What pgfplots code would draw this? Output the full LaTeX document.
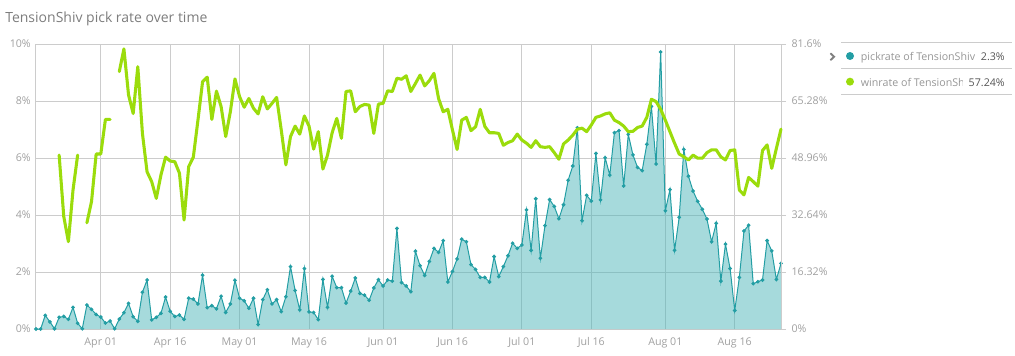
\documentclass[border=0pt]{standalone}
\usepackage{fontspec}
\setmainfont{Open Sans}
\usepackage{pgfplots}
\usepackage{pgfplotstable}
\pgfplotsset{compat=1.18}
\definecolor{pickline}{RGB}{35,158,164}
\definecolor{pickfill}{RGB}{77,181,185}
\definecolor{winline}{RGB}{155,220,12}
\definecolor{gridc}{RGB}{204,204,204}
\definecolor{ticktext}{RGB}{160,160,160}
\definecolor{titletext}{RGB}{125,125,125}
\definecolor{legtext}{RGB}{150,150,150}
\definecolor{legval}{RGB}{85,85,85}

\pgfplotstableread{
d p
-14 0.0
-13 0.0
-12 0.48
-11 0.25
-10 0.01
-9 0.41
-8 0.44
-7 0.34
-6 0.76
-5 0.2
-4 0.01
-3 0.84
-2 0.69
-1 0.51
0 0.42
1 0.21
2 0.28
3 0.01
4 0.35
5 0.57
6 0.9
7 0.43
8 0.27
9 1.29
10 1.72
11 0.32
12 0.41
13 0.55
14 1.12
15 0.62
16 0.44
17 0.49
18 0.34
19 1.08
20 1.05
21 0.88
22 1.89
23 0.75
24 0.82
25 0.71
26 1.15
27 0.58
28 0.88
29 1.71
30 1.08
31 0.99
32 0.73
33 1.08
34 0.16
35 1.03
36 1.38
37 0.88
38 1.03
39 0.61
40 1.13
41 2.19
42 1.35
43 0.67
44 2.12
45 0.60
46 0.58
47 0.33
48 1.74
49 0.76
50 1.85
51 1.45
52 1.45
53 0.91
54 1.33
55 1.79
56 1.25
57 1.19
58 1.01
59 1.44
60 1.73
61 1.51
62 1.72
63 1.68
64 3.53
65 1.63
66 1.51
67 1.31
68 2.73
69 2.22
70 1.88
71 2.37
72 2.83
73 2.69
74 3.10
75 1.65
76 2.02
77 2.46
78 3.15
79 3.06
80 2.26
81 2.09
82 1.81
83 1.81
84 1.65
85 2.54
86 1.84
87 2.19
88 2.57
89 3.01
90 2.83
91 2.95
92 4.18
93 2.76
94 4.57
95 2.48
96 3.63
97 4.54
98 4.30
99 3.87
100 4.36
101 5.22
102 5.72
103 7.06
104 3.80
105 4.69
106 4.49
107 6.16
108 4.53
109 6.01
110 5.40
111 6.89
112 6.96
113 5.02
114 6.83
115 6.11
116 5.67
117 5.56
118 6.48
119 7.81
120 5.79
121 9.72
122 4.15
123 4.89
124 2.76
125 3.92
126 6.30
127 5.36
128 4.84
129 4.48
130 4.20
131 3.86
132 3.06
133 3.71
134 1.68
135 2.98
136 2.12
137 0.65
138 1.81
139 3.44
140 3.64
141 1.59
142 1.66
143 1.72
144 3.10
145 2.74
146 1.74
147 2.30
}\pick

\pgfplotstableread{
d w
-14 nan
-13 nan
-12 nan
-11 nan
-10 nan
-9 49.8
-8 32.2
-7 25.0
-6 39.8
-5 49.8
-4 nan
-3 30.4
-2 36.5
-1 50.1
0 50.1
1 60.0
2 60.0
3 nan
4 73.7
5 80.2
6 67.0
7 61.7
8 75.1
9 56.0
10 45.0
11 42.2
12 37.4
13 44.1
14 49.2
15 48.1
16 47.9
17 44.6
18 31.2
19 46.5
20 49.2
21 59.8
22 70.8
23 72.1
24 60.0
25 68.1
26 63.7
27 55.1
28 62.2
29 71.6
30 66.5
31 63.5
32 66.0
33 63.2
34 61.6
35 66.5
36 63.0
37 64.6
38 66.3
39 57.0
40 47.0
41 55.1
42 58.1
43 55.8
44 61.0
45 58.1
46 51.5
47 56.5
48 45.8
49 49.8
50 56.2
51 60.3
52 54.6
53 68.0
54 68.2
55 62.2
56 63.7
57 64.3
58 64.1
59 56.0
60 64.4
61 64.6
62 68.2
63 68.0
64 71.8
65 71.5
66 72.5
67 68.0
68 70.3
69 72.7
70 69.6
71 71.1
72 73.2
73 66.0
74 62.2
75 62.9
76 57.0
77 51.4
78 59.8
79 60.6
80 56.8
81 57.9
82 62.9
83 58.0
84 56.2
85 56.2
86 56.0
87 52.6
88 53.4
89 53.9
90 55.8
91 54.1
92 53.2
93 52.0
94 53.9
95 52.2
96 52.0
97 52.2
98 50.5
99 48.6
100 53.0
101 54.1
102 55.5
103 57.2
104 57.5
105 56.5
106 58.4
107 60.6
108 61.0
109 61.6
110 61.9
111 59.8
112 59.1
113 58.1
114 56.5
115 56.6
116 57.7
117 58.1
118 60.6
119 65.8
120 65.1
121 62.9
122 59.8
123 56.5
124 53.2
125 50.1
126 49.3
127 48.4
128 49.8
129 48.9
130 48.9
131 50.5
132 51.3
133 51.3
134 49.3
135 48.4
136 51.1
137 51.3
138 39.8
139 38.4
140 43.4
141 42.2
142 40.9
143 51.1
144 52.7
145 46.0
146 51.7
147 57.24
}\win

\begin{document}
\begin{tikzpicture}
\path[use as bounding box] (0,0) rectangle (761.25pt,266.25pt);

\node[anchor=base west, inner sep=0pt, font=\fontsize{10.5}{12}\selectfont, text=titletext] at (3.75pt,249.4pt) {TensionShiv pick rate over time};

\begin{axis}[
  at={(27pt,19.5pt)}, anchor=south west, scale only axis,
  width=558.75pt, height=213.75pt,
  xmin=-14, xmax=147, ymin=0, ymax=10,
  xtick={0,15,30,45,61,76,91,106,122,137},
  xticklabels={Apr 01,Apr 16,May 01,May 16,Jun 01,Jun 16,Jul 01,Jul 16,Aug 01,Aug 16},
  ytick={0,2,4,6,8,10},
  yticklabels={0\%,2\%,4\%,6\%,8\%,10\%},
  grid=major, grid style={gridc, line width=0.75pt},
  axis line style={gridc, line width=0.75pt},
  major tick length=0pt,
  tick label style={font=\fontsize{8}{9}\selectfont, text=ticktext},
  /pgf/number format/assume math mode=true,
  yticklabel style={anchor=east, inner sep=0pt, xshift=-3.75pt},
  xticklabel style={anchor=base, inner sep=0pt, yshift=-12.4pt},
  clip=false,
]
\addplot[draw=none, fill=pickfill, fill opacity=0.5] table[x=d,y=p]{\pick} \closedcycle;
\addplot[pickline, line width=0.75pt, mark=*, mark size=1pt, mark options={solid, fill=pickline, draw=pickline}] table[x=d,y=p]{\pick};
\end{axis}

\begin{axis}[
  at={(27pt,19.5pt)}, anchor=south west, scale only axis,
  width=558.75pt, height=213.75pt,
  xmin=-14, xmax=147, ymin=0, ymax=81.6,
  axis x line=none, axis y line*=right,
  ytick={0,16.32,32.64,48.96,65.28,81.6},
  yticklabels={0\%,16.32\%,32.64\%,48.96\%,65.28\%,81.6\%},
  axis line style={gridc, line width=0.75pt},
  tick style={gridc, line width=0.75pt},
  major tick length=3.75pt, tick align=outside,
  tick label style={font=\fontsize{8}{9}\selectfont, text=ticktext},
  /pgf/number format/assume math mode=true,
  yticklabel style={anchor=west, inner sep=0pt, xshift=4pt},
  unbounded coords=jump, clip=false,
]
\addplot[winline, line width=2.3pt, line join=round, line cap=round, no marks] table[x=d,y=w]{\win};
\end{axis}

% legend
\draw[gridc, line width=0.75pt] (630.75pt,234.5pt) -- (759pt,234.5pt);
\draw[gridc, line width=0.75pt] (630.75pt,214.9pt) -- (759pt,214.9pt);
\draw[gridc, line width=0.75pt] (630.75pt,195.75pt) -- (759pt,195.75pt);
\draw[gray, line width=1.4pt] (622.8pt,226.3pt) -- (625.6pt,223.7pt) -- (622.8pt,221.1pt);
\fill[pickline] (637.5pt,224.25pt) circle (3pt);
\node[anchor=base west, inner sep=0pt, font=\fontsize{8}{9}\selectfont, text=legtext] at (645.5pt,220.9pt) {pickrate of TensionShiv};
\node[anchor=base east, inner sep=0pt, font=\fontsize{8}{9}\selectfont, text=legval] at (753.75pt,220.9pt) {2.3\%};
\fill[winline] (637.5pt,205pt) circle (3pt);
\begin{scope}
\clip (640pt,190pt) rectangle (721.5pt,214pt);
\node[anchor=base west, inner sep=0pt, font=\fontsize{8}{9}\selectfont, text=legtext] at (645.5pt,201.75pt) {winrate of TensionShiv};
\end{scope}
\node[anchor=base east, inner sep=0pt, font=\fontsize{8}{9}\selectfont, text=legval] at (753.75pt,201.75pt) {57.24\%};
\end{tikzpicture}
\end{document}
